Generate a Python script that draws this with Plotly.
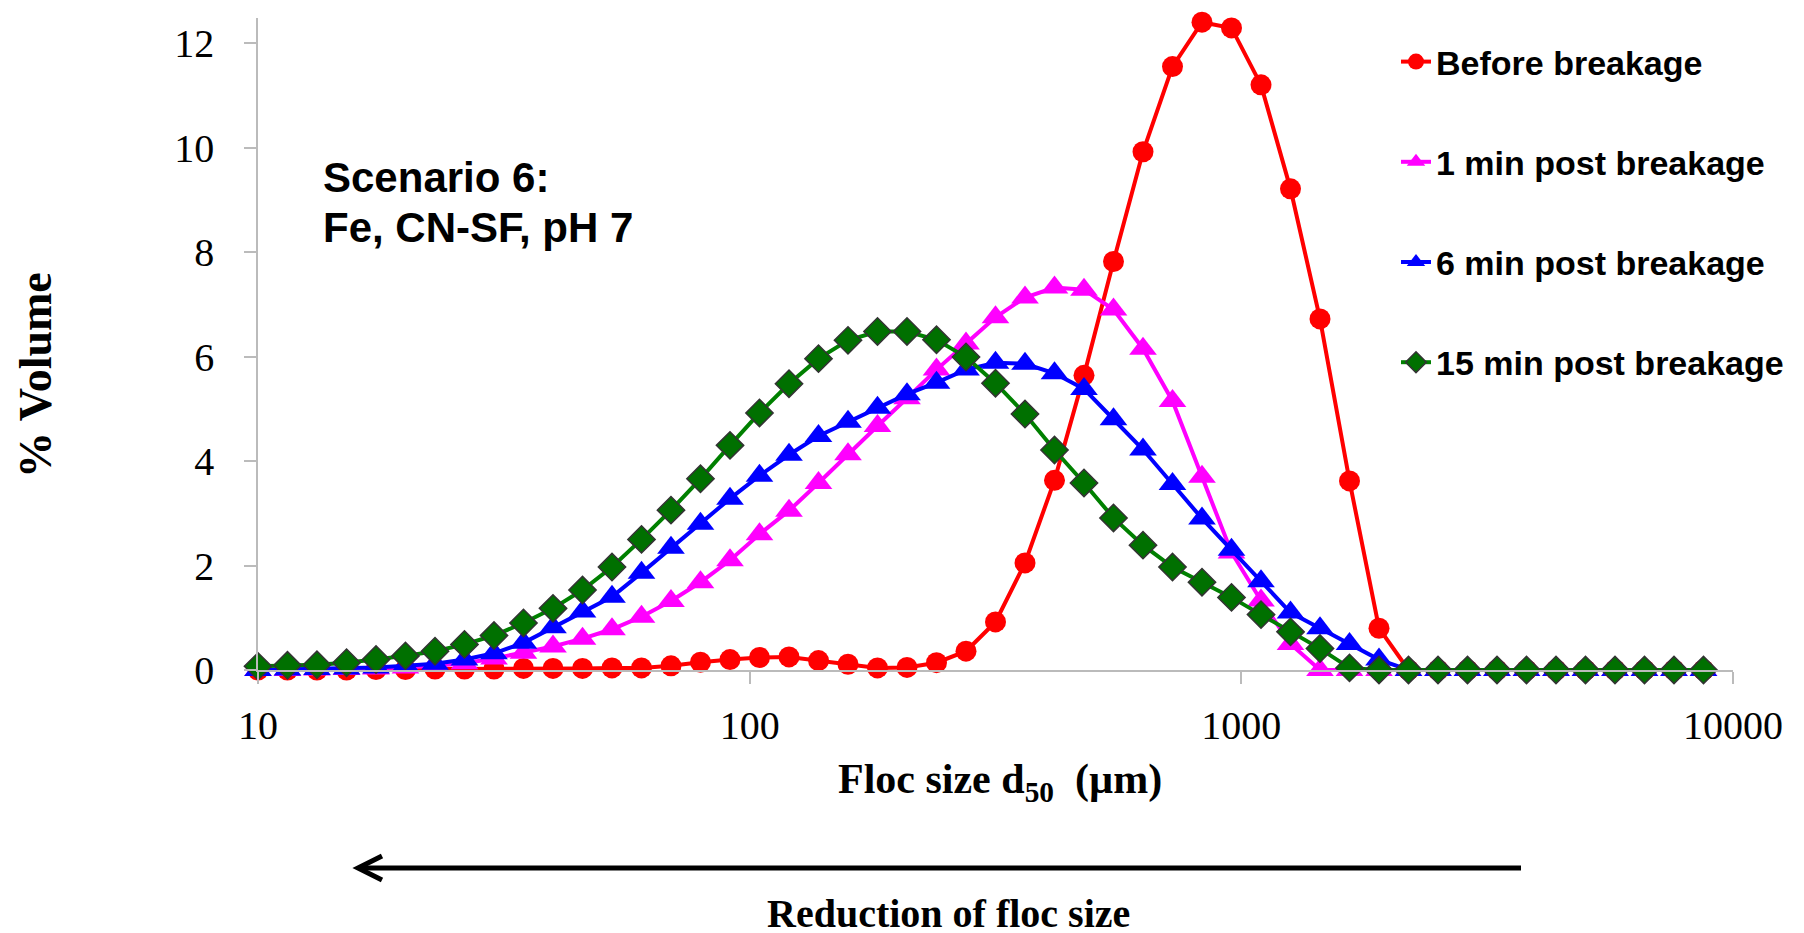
import plotly.graph_objects as go

# ---- data ----
size_um = [10.0, 11.48, 13.18, 15.14, 17.38, 19.95, 22.91, 26.30, 30.20, 34.67,
           39.81, 45.71, 52.48, 60.26, 69.18, 79.43, 91.20, 104.71, 120.23, 138.04,
           158.49, 181.97, 208.93, 239.88, 275.42, 316.23, 363.08, 416.87, 478.63, 549.54,
           630.96, 724.44, 831.76, 954.99, 1096.48, 1258.93, 1445.44, 1659.59, 1905.46, 2187.76,
           2511.89, 2884.03, 3311.31, 3801.89, 4365.16, 5011.87, 5754.40, 6606.93, 7585.78, 8709.64]

before_breakage = [0.00, 0.00, 0.00, 0.00, 0.01, 0.01, 0.02, 0.02, 0.02, 0.03,
                   0.03, 0.03, 0.04, 0.04, 0.08, 0.15, 0.20, 0.24, 0.25, 0.18,
                   0.11, 0.04, 0.05, 0.14, 0.36, 0.92, 2.05, 3.63, 5.64, 7.82,
                   9.92, 11.55, 12.40, 12.29, 11.20, 9.21, 6.72, 3.62, 0.80, 0.00,
                   0.00, 0.00, 0.00, 0.00, 0.00, 0.00, 0.00, 0.00, 0.00, 0.00]

post_1min = [0.00, 0.00, 0.01, 0.02, 0.03, 0.05, 0.08, 0.13, 0.22, 0.33,
             0.45, 0.60, 0.78, 1.02, 1.32, 1.68, 2.10, 2.60, 3.05, 3.58,
             4.13, 4.67, 5.20, 5.75, 6.25, 6.75, 7.13, 7.32, 7.28, 6.90,
             6.15, 5.15, 3.70, 2.25, 1.33, 0.50, 0.00, 0.00, 0.00, 0.00,
             0.00, 0.00, 0.00, 0.00, 0.00, 0.00, 0.00, 0.00, 0.00, 0.00]

post_6min = [0.00, 0.01, 0.02, 0.03, 0.05, 0.08, 0.12, 0.20, 0.32, 0.52,
             0.82, 1.12, 1.40, 1.86, 2.34, 2.80, 3.28, 3.72, 4.12, 4.48,
             4.75, 5.02, 5.28, 5.50, 5.75, 5.88, 5.86, 5.68, 5.38, 4.80,
             4.22, 3.56, 2.90, 2.30, 1.70, 1.10, 0.80, 0.50, 0.20, 0.00,
             0.00, 0.00, 0.00, 0.00, 0.00, 0.00, 0.00, 0.00, 0.00, 0.00]

post_15min = [0.07, 0.09, 0.10, 0.14, 0.20, 0.27, 0.36, 0.49, 0.66, 0.90,
              1.18, 1.53, 1.97, 2.50, 3.06, 3.66, 4.30, 4.92, 5.48, 5.96,
              6.31, 6.48, 6.48, 6.32, 5.99, 5.49, 4.90, 4.21, 3.58, 2.91,
              2.39, 1.97, 1.68, 1.39, 1.06, 0.73, 0.41, 0.04, 0.00, 0.00,
              0.00, 0.00, 0.00, 0.00, 0.00, 0.00, 0.00, 0.00, 0.00, 0.00]

series_names = ["Before breakage", "1 min post breakage", "6 min post breakage", "15 min post breakage"]
x_tick_vals = [10, 100, 1000, 10000]
x_tick_text = ["10", "100", "1000", "10000"]
y_tick_vals = [0, 2, 4, 6, 8, 10, 12]

# ---- figure ----
W, H = 1804, 933
ML, MR, MT, MB = 250, 79, 10, 271
PW, PH = W - ML - MR, H - MT - MB


def px(xp):
    return (xp - ML) / PW


def py(yp):
    return (H - MB - yp) / PH


SERIF = "Liberation Serif, Times New Roman, serif"
SANS = "Liberation Sans, Arial, sans-serif"

fig = go.Figure()
styles = [
    dict(line=dict(color="#FF0000", width=4),
         marker=dict(symbol="circle", size=21, color="#FF0000")),
    dict(line=dict(color="#FF00FF", width=4),
         marker=dict(symbol="triangle-up", size=24, color="#FF00FF")),
    dict(line=dict(color="#0000FF", width=4),
         marker=dict(symbol="triangle-up", size=24, color="#0000FF")),
    dict(line=dict(color="#008000", width=4),
         marker=dict(symbol="diamond", size=21, color="#007000",
                     line=dict(color="#333333", width=1.5))),
]
for name, vals, st in zip(series_names, [before_breakage, post_1min, post_6min, post_15min], styles):
    fig.add_trace(go.Scatter(x=size_um, y=vals, mode="lines+markers", name=name,
                             legendgroup=name, cliponaxis=False, **st))

fig.update_layout(
    width=W, height=H,
    margin=dict(l=ML, r=MR, t=MT, b=MB, pad=0),
    paper_bgcolor="white", plot_bgcolor="white",
    showlegend=True,
    legend=dict(x=px(1388), y=py(25), xanchor="left", yanchor="top",
                font=dict(family=SANS, size=34, color="black", weight="bold"),
                tracegroupgap=53, bgcolor="rgba(0,0,0,0)", itemwidth=30),
    xaxis=dict(type="log", range=[1, 4], tickvals=x_tick_vals, ticktext=x_tick_text,
               showgrid=False, zeroline=False, showline=True, linecolor="#BBBBBB", linewidth=1.5,
               ticks="outside", ticklen=12, tickcolor="#BBBBBB", tickwidth=1.5,
               tickfont=dict(family=SERIF, size=40, color="black"), ticklabelstandoff=7),
    yaxis=dict(range=[0, 12.48], tickvals=y_tick_vals,
               showgrid=False, zeroline=False, showline=True, linecolor="#BBBBBB", linewidth=1.5,
               ticks="outside", ticklen=12, tickcolor="#BBBBBB", tickwidth=1.5,
               tickfont=dict(family=SERIF, size=40, color="black"), ticklabelstandoff=22),
)

annotations = [
    dict(text="% Volume", x=px(27), y=py(367), textangle=-90,
         font=dict(family=SERIF, size=46, color="black", weight="bold")),
    dict(text="Floc size d<sub>50</sub>\u00a0 (\u00b5m)", x=px(992), y=py(774),
         font=dict(family=SERIF, size=42, color="black", weight="bold")),
    dict(text="Reduction of floc size", x=px(940), y=py(905),
         font=dict(family=SERIF, size=40, color="black", weight="bold")),
    dict(text="Scenario 6:", x=px(313), y=py(169), xanchor="left",
         font=dict(family=SANS, size=42, color="black", weight="bold")),
    dict(text="Fe, CN-SF, pH 7", x=px(313), y=py(219), xanchor="left",
         font=dict(family=SANS, size=42, color="black", weight="bold")),
]
for a in annotations:
    a.setdefault("xanchor", "center")
    a.update(xref="paper", yref="paper", showarrow=False, yanchor="middle")
    fig.add_annotation(**a)

# arrow "reduction of floc size"
fig.add_shape(type="line", xref="paper", yref="paper",
              x0=px(1513), y0=py(860), x1=px(352), y1=py(860),
              line=dict(color="black", width=5))
fig.add_shape(type="path", xref="paper", yref="paper",
              path=f"M {px(374)},{py(848)} L {px(350)},{py(860)} L {px(374)},{py(872)}",
              line=dict(color="black", width=5))

fig.write_html("out.html")
